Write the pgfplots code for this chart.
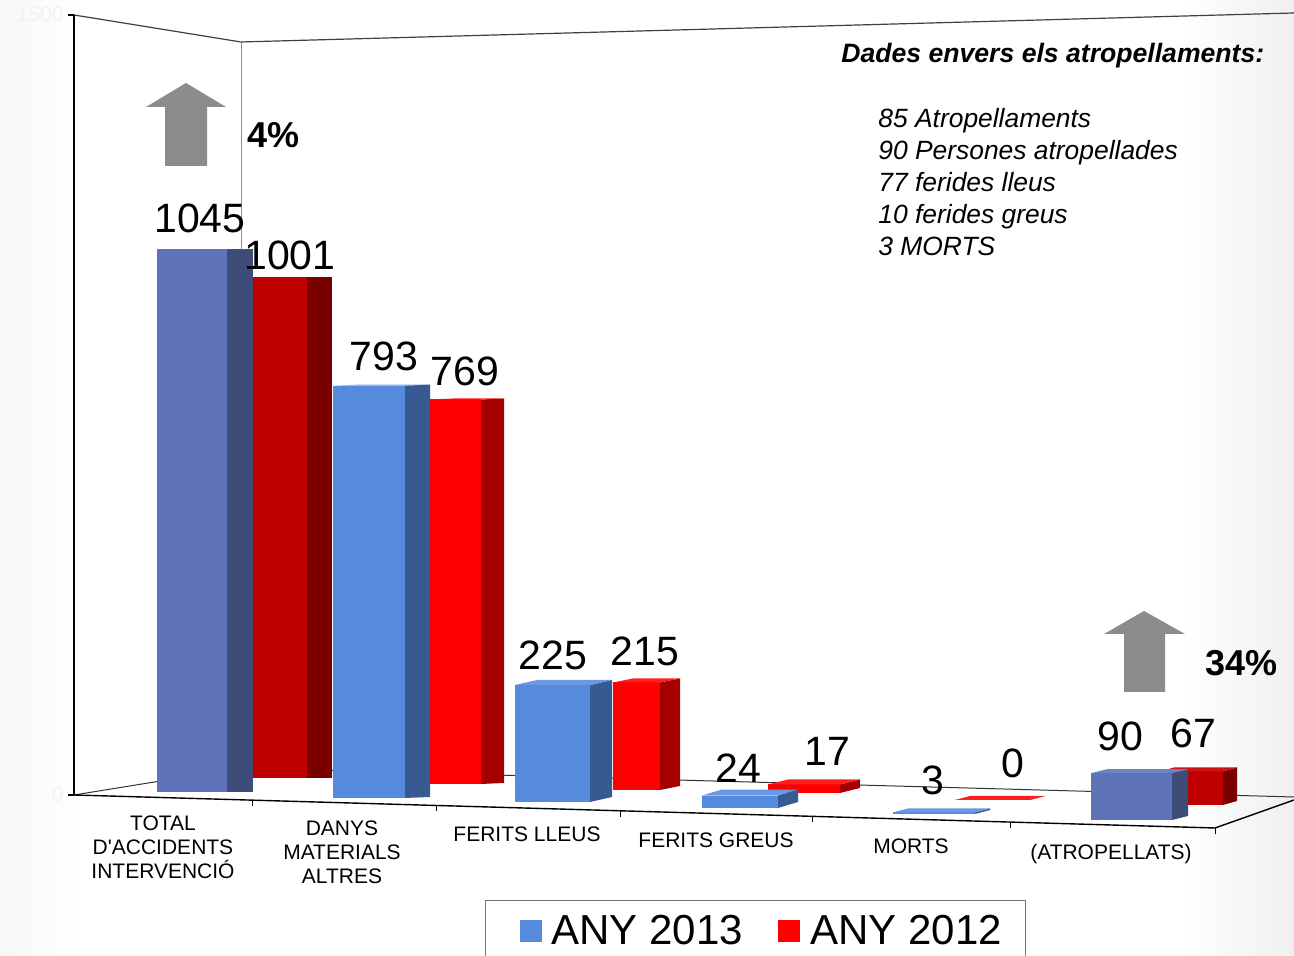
\documentclass[border=0pt]{standalone}
\usepackage{pgfplots}
\pgfplotsset{compat=1.18}
\usepackage{fontspec}
\setmainfont{Liberation Sans}

\definecolor{c13a}{RGB}{95,115,185}
\definecolor{c13as}{RGB}{62,76,122}
\definecolor{c13at}{RGB}{110,130,195}
\definecolor{c13b}{RGB}{85,138,221}
\definecolor{c13bs}{RGB}{55,90,145}
\definecolor{c13bt}{RGB}{105,152,228}
\definecolor{c12a}{RGB}{192,0,0}
\definecolor{c12as}{RGB}{122,0,0}
\definecolor{c12at}{RGB}{205,20,20}
\definecolor{c12b}{RGB}{255,0,0}
\definecolor{c12bs}{RGB}{165,0,0}
\definecolor{c12bt}{RGB}{255,30,30}
\definecolor{arrowgray}{RGB}{140,140,140}

% #1 x0, #2 x1 (front face, px), #3 depth dx (px), #4 depth dy (px, negative = up),
% #5 bottom of front face (px from top), #6 value, #7 px per unit, #8 colour name
\newcommand{\cuboid}[8]{%
  \pgfmathsetmacro\cbA{(795-#5)/#7}%
  \pgfmathsetmacro\cbB{\cbA+#6}%
  \pgfmathsetmacro\cbD{-(#4)/#7}%
  \pgfmathsetmacro\cbC{\cbA+\cbD}%
  \pgfmathsetmacro\cbE{\cbB+\cbD}%
  \pgfmathsetmacro\cbXa{#1}%
  \pgfmathsetmacro\cbXb{#2}%
  \pgfmathsetmacro\cbXc{#2+#3}%
  \pgfmathsetmacro\cbXd{#1+#3}%
  \edef\cbplot{%
    \noexpand\addplot[fill=#8, draw=none, forget plot] coordinates {(\cbXa,\cbA) (\cbXb,\cbA) (\cbXb,\cbB) (\cbXa,\cbB)} -- cycle;
    \noexpand\addplot[fill=#8s, draw=none, forget plot] coordinates {(\cbXb,\cbA) (\cbXc,\cbC) (\cbXc,\cbE) (\cbXb,\cbB)} -- cycle;
    \noexpand\addplot[fill=#8t, draw=none, forget plot] coordinates {(\cbXa,\cbB) (\cbXb,\cbB) (\cbXc,\cbE) (\cbXd,\cbE)} -- cycle;
  }\cbplot}

\begin{document}
\begin{tikzpicture}
% background: white with faint grey strips at the sides
\fill[white] (0,0) rectangle (647pt,478pt);
\shade[left color=black!3, right color=white] (0,0) rectangle (40pt,478pt);
\shade[left color=white, right color=black!6] (590pt,0) rectangle (647pt,478pt);

% walls and floor (pixel coordinates of the reference)
\begin{scope}[x=0.5pt, y=-0.5pt, yshift=478pt]
  \draw[black!75, line width=0.6pt] (74,15) -- (241,42);
  \draw[black!75, line width=0.6pt] (241,42) -- (1294,13);
  \draw[black!45, line width=0.5pt] (241,42) -- (241,768);
  \draw[black!80, line width=0.5pt] (74,795) -- (241,768) -- (1294,797);
  \draw[black, line width=0.7pt] (74,15) -- (74,795);
  \draw[black, line width=0.6pt] (68,15) -- (74,15);
  \draw[black, line width=0.6pt] (68,795) -- (74,795);
  \draw[black, line width=0.7pt] (74,795) -- (1215,828) -- (1294,800);
  \foreach \t/\u in {252/800.1,436/805.5,620/810.8,812/816.3,1010/822.1}
    \draw[black, line width=0.5pt] (\t,\u) -- ++(0,6);
  \draw[black, line width=0.5pt] (1215,828) -- ++(0,6);
  \node[anchor=base east, inner sep=0, text=white!95!black, font=\fontsize{10.5}{12}\selectfont] at (64,22) {1500};
  \node[anchor=base east, inner sep=0, text=white!95!black, font=\fontsize{10.5}{12}\selectfont] at (64,802) {0};
\end{scope}

% ANY 2012 (drawn behind)
\begin{axis}[at={(0,0)}, anchor=south west, width=647pt, height=478pt, scale only axis,
  xmin=0, xmax=1294, ymin=-322, ymax=1590, hide axis, clip=false]
  \cuboid{253}{307}{25}{0}{778}{1001}{0.50}{c12a}
  \cuboid{430}{481}{23}{-1}{784}{769}{0.50}{c12b}
  \cuboid{613}{660}{20}{-4}{790}{215}{0.50}{c12b}
  \cuboid{768}{840}{20}{-5}{793}{17}{0.50}{c12b}
  \cuboid{955}{1030}{15}{-4}{800}{0}{0.50}{c12b}
  \cuboid{1160}{1223}{14}{-4}{805}{67}{0.50}{c12a}
\end{axis}

% ANY 2013 (front)
\begin{axis}[at={(0,0)}, anchor=south west, width=647pt, height=478pt, scale only axis,
  xmin=0, xmax=1294, ymin=-309.615, ymax=1528.846, hide axis, clip=false]
  \cuboid{157}{227}{26}{0}{792}{1045}{0.52}{c13a}
  \cuboid{333}{405}{25}{-1}{798}{793}{0.52}{c13b}
  \cuboid{515}{590}{22}{-5}{802}{225}{0.52}{c13b}
  \cuboid{702}{778}{20}{-6}{808}{24}{0.52}{c13b}
  \cuboid{893}{975}{15}{-4}{814}{3}{0.52}{c13b}
  \cuboid{1091}{1172}{16}{-4}{820}{90}{0.52}{c13a}
\end{axis}

\begin{scope}[x=0.5pt, y=-0.5pt, yshift=478pt]
  % arrows
  \fill[arrowgray] (165,166) -- (165,107) -- (146,107) -- (186,83) -- (226,107) -- (207,107) -- (207,166) -- cycle;
  \fill[arrowgray] (1124,692) -- (1124,634) -- (1104,634) -- (1144,611) -- (1185,634) -- (1165,634) -- (1165,692) -- cycle;
  \node[anchor=base west, inner sep=0, font=\fontsize{18}{20}\selectfont\bfseries] at (247,148) {4\%};
  \node[anchor=base west, inner sep=0, font=\fontsize{18}{20}\selectfont\bfseries] at (1205,676) {34\%};

  % value labels
  \begin{scope}[every node/.style={anchor=base, inner sep=0, font=\fontsize{20.5}{22}\selectfont}]
    \node at (200,233) {1045};
    \node at (290,270) {1001};
    \node at (384,371) {793};
    \node at (465,386) {769};
    \node at (553,670) {225};
    \node at (645,666) {215};
    \node at (738,783) {24};
    \node at (827,766) {17};
    \node at (933,795) {3};
    \node at (1013,778) {0};
    \node at (1120,751) {90};
    \node at (1193,748) {67};
  \end{scope}

  % category labels
  \begin{scope}[every node/.style={anchor=north, inner sep=0, align=center, font=\fontsize{10.5}{12}\selectfont}]
    \node at (163,815) {TOTAL\\D\textquotesingle ACCIDENTS\\INTERVENCIÓ};
    \node at (342,820) {DANYS\\MATERIALS\\ALTRES};
    \node at (527,826) {FERITS LLEUS};
    \node at (716,832) {FERITS GREUS};
    \node at (911,838) {MORTS};
    \node at (1111,844) {(ATROPELLATS)};
  \end{scope}

  % annotation
  \node[anchor=base west, inner sep=0, font=\fontsize{13.3}{15}\selectfont\bfseries\itshape] at (841,63) {Dades envers els atropellaments:};
  \begin{scope}[every node/.style={anchor=base west, inner sep=0, font=\fontsize{13.2}{15}\selectfont\itshape}]
    \node at (878,128) {85 Atropellaments};
    \node at (878,160) {90 Persones atropellades};
    \node at (878,192) {77 ferides lleus};
    \node at (878,224) {10 ferides greus};
    \node at (878,256) {3 MORTS};
  \end{scope}

  % legend
  \fill[white] (485,901) rectangle (1025,970);
  \draw[black!55, line width=0.5pt] (485,970) -- (485,901) -- (1025,901) -- (1025,970);
  \fill[c13b] (520,920) rectangle (542,942);
  \fill[c12b] (778,920) rectangle (800,942);
  \node[anchor=base west, inner sep=0, font=\fontsize{21}{23}\selectfont] at (551,945) {ANY 2013};
  \node[anchor=base west, inner sep=0, font=\fontsize{21}{23}\selectfont] at (810,945) {ANY 2012};
\end{scope}

\pgfresetboundingbox
\path[use as bounding box] (0,0) rectangle (647pt,478pt);
\end{tikzpicture}
\end{document}
